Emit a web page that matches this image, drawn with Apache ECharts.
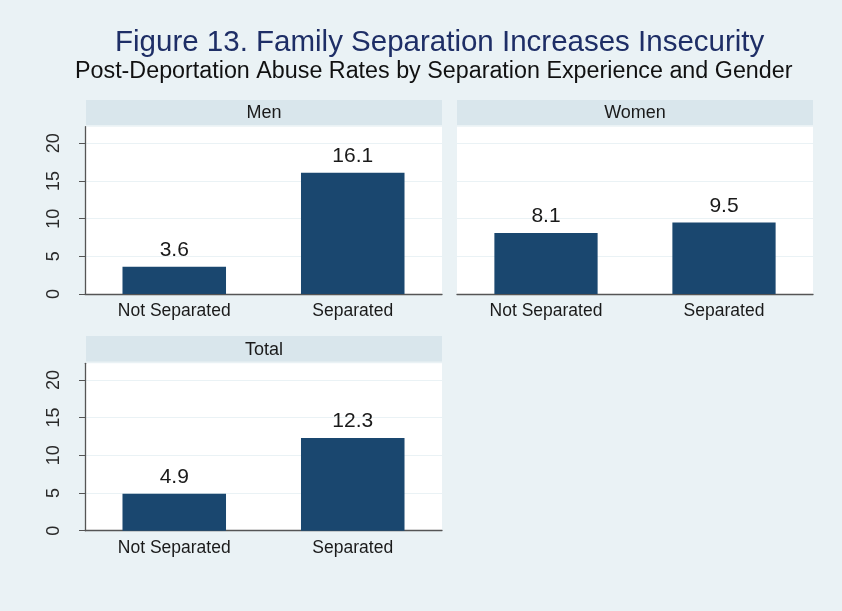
<!DOCTYPE html>
<html>
<head>
<meta charset="utf-8">
<script src="https://cdn.jsdelivr.net/npm/echarts@6/dist/echarts.min.js"></script>
<style>
html,body{margin:0;padding:0;background:#EAF2F5;}
#c{width:842px;height:611px;}
</style>
</head>
<body>
<div id="c"></div>
<script>
const categories = ['Not Separated', 'Separated'];
const menValues = [3.6, 16.1];
const womenValues = [8.1, 9.5];
const totalValues = [4.9, 12.3];
const yTicks = [0, 5, 10, 15, 20];
const panelTitles = ['Men', 'Women', 'Total'];
const mainTitle = 'Figure 13. Family Separation Increases Insecurity';
const subTitle = 'Post-Deportation Abuse Rates by Separation Experience and Gender';

const FONT = '"Liberation Sans", Arial, sans-serif';
const BAR = '#1A476F';
const grids = [
  {left: 85, top: 126.7, width: 357, height: 167.3},
  {left: 457, top: 126.7, width: 356, height: 167.3},
  {left: 85, top: 363.3, width: 357, height: 167.4}
];
const strips = [
  {x: 86, y: 100, w: 356, h: 25},
  {x: 457, y: 100, w: 356, h: 25},
  {x: 86, y: 336, w: 356, h: 25.5}
];
const seriesValues = [menValues, womenValues, totalValues];

const chart = echarts.init(document.getElementById('c'), null, {renderer: 'canvas'});

const graphic = [];
strips.forEach((s, i) => {
  graphic.push({type: 'rect', shape: {x: s.x, y: s.y, width: s.w, height: s.h}, style: {fill: '#D9E6EC'}, z: 1});
  graphic.push({type: 'text', x: s.x + s.w / 2, y: s.y + s.h / 2 + 1, style: {text: panelTitles[i], textAlign: 'center', textVerticalAlign: 'middle', font: '18px ' + FONT, fill: '#1a1a1a'}, z: 2});
});

const option = {
  backgroundColor: '#EAF2F5',
  animation: false,
  title: [
    {text: mainTitle, left: 110, top: 23, textStyle: {fontFamily: FONT, fontSize: 29.5, fontWeight: 'normal', color: '#1E2E66'}},
    {text: subTitle, left: 70, top: 55, textStyle: {fontFamily: FONT, fontSize: 23.3, fontWeight: 'normal', color: '#111'}}
  ],
  graphic: graphic,
  grid: grids.map(g => Object.assign({show: true, backgroundColor: '#FFFFFF', borderWidth: 0}, g)),
  xAxis: grids.map((g, i) => ({
    type: 'category', gridIndex: i, data: categories,
    axisLine: {show: true, lineStyle: {color: '#555', width: 1.3}},
    axisTick: {show: false},
    axisLabel: {fontFamily: FONT, fontSize: 17.5, color: '#1a1a1a', margin: 8}
  })),
  yAxis: grids.map((g, i) => ({
    type: 'value', gridIndex: i, min: 0, max: 22.2, interval: 5,
    axisLine: {show: i !== 1, lineStyle: {color: '#555', width: 1.3}},
    axisTick: {show: i !== 1, length: 6, lineStyle: {color: '#555'}, customValues: yTicks},
    axisLabel: {show: i !== 1, rotate: 90, fontFamily: FONT, fontSize: 18, color: '#2a2a2a', margin: 22, customValues: yTicks},
    splitLine: {show: true, lineStyle: {color: '#EAF2F5', width: 1}}
  })),
  series: seriesValues.map((vals, i) => ({
    type: 'bar', xAxisIndex: i, yAxisIndex: i, data: vals, barWidth: '58%',
    itemStyle: {color: BAR},
    label: {show: true, position: 'top', distance: 6, fontFamily: FONT, fontSize: 21, color: '#1a1a1a'}
  }))
};
chart.setOption(option);
</script>
</body>
</html>
